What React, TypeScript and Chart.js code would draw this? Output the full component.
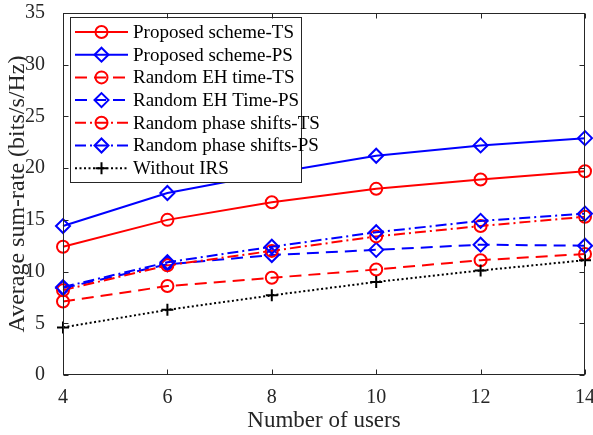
import React, { useEffect, useRef } from 'react';
import { Chart, registerables } from 'chart.js';

Chart.register(...registerables);

const users = [4, 6, 8, 10, 12, 14];
const proposedTS = [12.4, 15.0, 16.7, 18.0, 18.9, 19.7];
const proposedPS = [14.4, 17.6, 19.5, 21.2, 22.2, 22.9];
const randomEHTimeTS = [7.1, 8.6, 9.4, 10.2, 11.1, 11.7];
const randomEHTimePS = [8.4, 10.7, 11.6, 12.1, 12.6, 12.5];
const randomPhaseTS = [8.2, 10.6, 12.0, 13.4, 14.4, 15.3];
const randomPhasePS = [8.5, 10.9, 12.4, 13.8, 14.9, 15.6];
const withoutIRS = [4.6, 6.3, 7.7, 9.0, 10.1, 11.1];

const xTicks = [4, 6, 8, 10, 12, 14];
const yTicks = [0, 5, 10, 15, 20, 25, 30, 35];

const seriesNames = [
  'Proposed scheme-TS',
  'Proposed scheme-PS',
  'Random EH time-TS',
  'Random EH Time-PS',
  'Random phase shifts-TS',
  'Random phase shifts-PS',
  'Without IRS',
];
const xTitle = 'Number of users';
const yTitle = 'Average sum-rate (bits/s/Hz)';

const RED = '#FF0000';
const BLUE = '#0000FF';
const BLACK = '#000000';
const AXIS = '#262626';
const FONT = "'Liberation Serif', 'Times New Roman', serif";

const DASH = [12, 7];
const DASHDOT = [11, 4, 2, 4];
const DOT = [2, 2.5];

type Style = { color: string; dash: number[]; marker: 'circle' | 'rectRot' | 'cross'; radius: number };
const styles: Style[] = [
  { color: RED, dash: [], marker: 'circle', radius: 6 },
  { color: BLUE, dash: [], marker: 'rectRot', radius: 7 },
  { color: RED, dash: DASH, marker: 'circle', radius: 6 },
  { color: BLUE, dash: DASH, marker: 'rectRot', radius: 7 },
  { color: RED, dash: DASHDOT, marker: 'circle', radius: 6 },
  { color: BLUE, dash: DASHDOT, marker: 'rectRot', radius: 7 },
  { color: BLACK, dash: DOT, marker: 'cross', radius: 6 },
];
const seriesValues = [
  proposedTS,
  proposedPS,
  randomEHTimeTS,
  randomEHTimePS,
  randomPhaseTS,
  randomPhasePS,
  withoutIRS,
];

function drawMarker(ctx: CanvasRenderingContext2D, s: Style, x: number, y: number) {
  ctx.save();
  ctx.setLineDash([]);
  ctx.strokeStyle = s.color;
  ctx.lineWidth = 2;
  ctx.beginPath();
  if (s.marker === 'circle') {
    ctx.arc(x, y, s.radius, 0, Math.PI * 2);
  } else if (s.marker === 'rectRot') {
    ctx.moveTo(x, y - s.radius);
    ctx.lineTo(x + s.radius, y);
    ctx.lineTo(x, y + s.radius);
    ctx.lineTo(x - s.radius, y);
    ctx.closePath();
  } else {
    ctx.moveTo(x - s.radius, y);
    ctx.lineTo(x + s.radius, y);
    ctx.moveTo(x, y - s.radius);
    ctx.lineTo(x, y + s.radius);
  }
  ctx.stroke();
  ctx.restore();
}

function drawLegend(ctx: CanvasRenderingContext2D) {
  const lx = 70, ly = 17, lw = 231, lh = 165;
  ctx.fillStyle = '#FFFFFF';
  ctx.fillRect(lx, ly, lw, lh);
  ctx.strokeStyle = AXIS;
  ctx.lineWidth = 1;
  ctx.setLineDash([]);
  ctx.strokeRect(lx + 0.5, ly + 0.5, lw, lh);
  ctx.font = `19px ${FONT}`;
  ctx.textBaseline = 'middle';
  ctx.textAlign = 'left';
  seriesNames.forEach((name, i) => {
    const s = styles[i];
    const cy = 32 + i * 22.7;
    ctx.save();
    ctx.strokeStyle = s.color;
    ctx.lineWidth = 2;
    ctx.setLineDash(s.dash);
    ctx.beginPath();
    ctx.moveTo(75, cy);
    ctx.lineTo(128, cy);
    ctx.stroke();
    ctx.restore();
    drawMarker(ctx, s, 101.5, cy);
    ctx.fillStyle = '#000000';
    ctx.fillText(name, 133, cy + 1);
  });
}

function drawTicks(ctx: CanvasRenderingContext2D, chart: any) {
  const a = chart.chartArea;
  const xs = chart.scales.x;
  const ys = chart.scales.y;
  const L = Math.round(a.left) + 0.5;
  const R = Math.round(a.right) - 0.5;
  const T = Math.round(a.top) + 0.5;
  const B = Math.round(a.bottom) - 0.5;
  const tl = 5;
  ctx.strokeStyle = AXIS;
  ctx.lineWidth = 1;
  ctx.setLineDash([]);
  ctx.beginPath();
  for (const v of xTicks) {
    const px = Math.round(xs.getPixelForValue(v)) + 0.5;
    ctx.moveTo(px, B);
    ctx.lineTo(px, B - tl);
    ctx.moveTo(px, T);
    ctx.lineTo(px, T + tl);
  }
  for (const v of yTicks) {
    const py = Math.round(ys.getPixelForValue(v)) + 0.5;
    ctx.moveTo(L, py);
    ctx.lineTo(L + tl, py);
    ctx.moveTo(R, py);
    ctx.lineTo(R - tl, py);
  }
  ctx.stroke();
}

const framePlugin = {
  id: 'matlabFrame',
  afterDraw(chart: any) {
    const ctx: CanvasRenderingContext2D = chart.ctx;
    ctx.save();
    drawLegend(ctx);
    drawTicks(ctx, chart);
    ctx.restore();
  },
};

export default function App() {
  const canvasRef = useRef<HTMLCanvasElement | null>(null);
  const boxRef = useRef<HTMLDivElement | null>(null);

  useEffect(() => {
    document.body.style.margin = '0';
    const canvas = canvasRef.current;
    if (!canvas) return;
    const datasets = seriesValues.map((vals, i) => {
      const s = styles[i];
      return {
        label: seriesNames[i],
        data: users.map((u, j) => ({ x: u, y: vals[j] })),
        borderColor: s.color,
        backgroundColor: 'transparent',
        borderWidth: 2,
        borderDash: s.dash,
        pointStyle: s.marker,
        pointRadius: s.radius,
        pointHoverRadius: s.radius,
        pointBorderWidth: 2,
        pointBorderColor: s.color,
        pointBackgroundColor: 'transparent',
        tension: 0,
        fill: false,
        clip: false as any,
        order: seriesNames.length - 1 - i,
      };
    });

    const chart = new Chart(canvas, {
      type: 'line',
      data: { datasets },
      options: {
        animation: false,
        responsive: false,
        maintainAspectRatio: false,
        devicePixelRatio: 1,
        layout: { autoPadding: false, padding: { top: 13, right: 8, left: 0, bottom: 0 } },
        plugins: { legend: { display: false }, tooltip: { enabled: false } },
        scales: {
          x: {
            type: 'linear',
            min: 4,
            max: 14,
            grid: { display: false },
            border: { display: false },
            afterBuildTicks: (scale: any) => {
              scale.ticks = xTicks.map((v) => ({ value: v }));
            },
            afterFit: (scale: any) => {
              scale.height = 60;
              scale.paddingLeft = 0;
              scale.paddingRight = 0;
            },
            ticks: {
              color: AXIS,
              font: { family: FONT, size: 20 },
              padding: 3,
              maxRotation: 0,
              autoSkip: false,
            },
            title: {
              display: true,
              text: xTitle,
              color: AXIS,
              font: { family: FONT, size: 23 },
              padding: { top: 0, bottom: 0 },
            },
          },
          y: {
            type: 'linear',
            min: 0,
            max: 35,
            grid: { display: false },
            border: { display: false },
            afterBuildTicks: (scale: any) => {
              scale.ticks = yTicks.map((v) => ({ value: v }));
            },
            afterFit: (scale: any) => {
              scale.width = 63;
              scale.paddingTop = 0;
              scale.paddingBottom = 0;
            },
            ticks: {
              color: AXIS,
              font: { family: FONT, size: 20 },
              padding: 10,
              autoSkip: false,
            },
            title: {
              display: true,
              text: yTitle,
              color: AXIS,
              font: { family: FONT, size: 24 },
              padding: { top: 3, bottom: 0 },
            },
          },
        },
      },
      plugins: [framePlugin],
    });

    const box = boxRef.current;
    if (box) {
      const a = chart.chartArea;
      box.style.left = `${Math.round(a.left)}px`;
      box.style.top = `${Math.round(a.top)}px`;
      box.style.width = `${Math.round(a.right) - Math.round(a.left)}px`;
      box.style.height = `${Math.round(a.bottom) - Math.round(a.top)}px`;
    }
    return () => chart.destroy();
  }, []);

  return (
    <div style={{ position: 'relative', width: 593, height: 435 }}>
      <canvas ref={canvasRef} width={593} height={435} style={{ display: 'block' }} />
      <div
        ref={boxRef}
        style={{
          position: 'absolute',
          boxSizing: 'border-box',
          border: `1px solid ${AXIS}`,
          pointerEvents: 'none',
          left: 63,
          top: 13,
          width: 522,
          height: 362,
        }}
      />
    </div>
  );
}
